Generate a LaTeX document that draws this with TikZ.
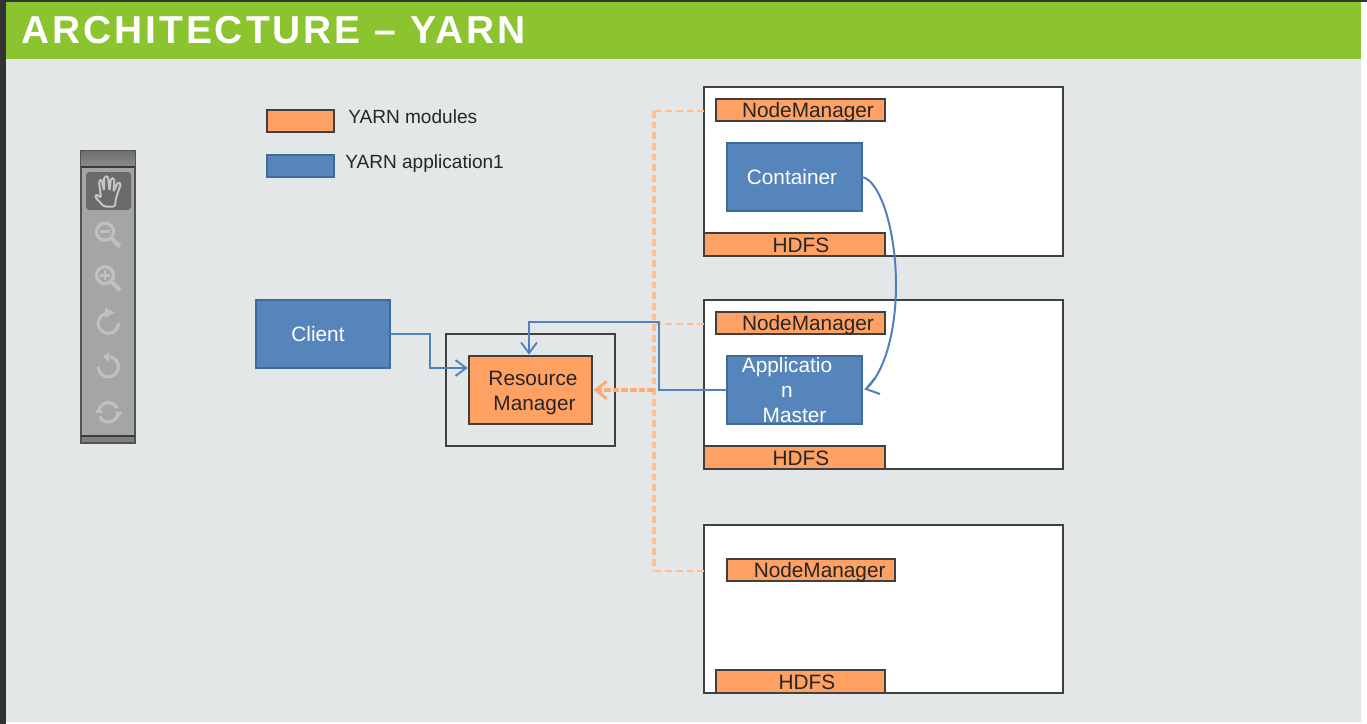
\documentclass[tikz,border=0pt]{standalone}
\usepackage{fontspec}
\setmainfont{Liberation Sans}
\newfontfamily\titlefont[LetterSpace=7.6]{Liberation Sans}
\usetikzlibrary{arrows.meta}
\definecolor{pagebg}{HTML}{E3E7E8}
\definecolor{bargreen}{HTML}{8BC42F}
\definecolor{edgedark}{HTML}{404040}
\definecolor{modorange}{HTML}{FFA163}
\definecolor{appblue}{HTML}{5585BB}
\definecolor{appedge}{HTML}{3F6A99}
\definecolor{dashorange}{HTML}{FDBE94}
\definecolor{arrowblue}{HTML}{4F81BD}
\definecolor{toolgrey}{HTML}{A4A6A5}
\definecolor{toolicon}{HTML}{BEC1C0}
\definecolor{toolbtn}{HTML}{696A69}
\definecolor{handline}{HTML}{C4C6C5}
\definecolor{strip}{HTML}{333333}
\newcommand\offs[1]{\hspace*{#1}}
\newcommand\low[2]{\raisebox{-#1}[\height][\depth]{#2}}
\tikzset{
  x=0.75pt,y=-0.75pt,
  sz/.style 2 args={minimum width=#1*0.75pt,minimum height=#2*0.75pt},
  base/.style={draw=edgedark,line width=1.5pt,inner sep=0pt,outer sep=0pt,align=center,
    font=\fontsize{15.6}{18.75}\selectfont,text=black!85},
  hostbox/.style={base,fill=white},
  plainbox/.style={base},
  modbox/.style={base,fill=modorange},
  appbox/.style={base,fill=appblue,draw=appedge,text=white},
  legendtext/.style={inner sep=0pt,anchor=west,font=\fontsize{14.3}{17}\selectfont,text=black!85},
  flow/.style={draw=arrowblue,line width=1.5pt,shorten >=1pt,-{Straight Barb[length=8pt,width=12pt,line width=1.4pt]}},
  flowplain/.style={draw=arrowblue,line width=1.5pt,line join=miter},
  hb/.style={draw=dashorange,line width=1.8pt,dash pattern=on 5pt off 3pt},
  trunk/.style={draw=dashorange,line width=2.4pt,dash pattern=on 5pt off 3pt},
  hbarrow/.style={draw=modorange!90!white,line width=2.7pt,dash pattern=on 5pt off 1.5pt,shorten >=1.2pt,
    -{Straight Barb[length=8pt,width=13pt,line width=2.2pt]}},
  iconline/.style={draw=toolicon,line width=2.4pt},
  iconhead/.style={fill=toolicon,draw=none},
}
\begin{document}
\begin{tikzpicture}
\useasboundingbox (0,0) rectangle (1367,724);
\fill[white] (0,0) rectangle (1367,724);
\fill[pagebg] (6,2) rectangle (1361,722);
\fill[strip] (0,0) rectangle (6,724);
\fill[strip] (0,0) rectangle (1367,2);
\fill[bargreen] (6,2) rectangle (1361,59);
\node[anchor=west,inner sep=0pt,text=white,font=\titlefont\fontsize{29.2}{32}\selectfont\bfseries] (title) at (21,30.5) {ARCHITECTURE – YARN};

% toolbar
\node[draw=edgedark!90!white,line width=1.1pt,fill=toolgrey,inner sep=0pt,outer sep=0pt,sz={54}{292}] (toolbar) at (108,297) {};
\fill[top color=gray!75!black!90,bottom color=gray!90] (81.7,151.7) rectangle (134.3,167);
\draw[edgedark!90!black,line width=0.8pt] (81,167) -- (135,167);
\fill[gray] (81.7,436) rectangle (134.3,442.3);
\draw[edgedark!90!black,line width=0.8pt] (81,436) -- (135,436);
\fill[toolbtn,rounded corners=2.5pt] (86,172) rectangle (131,210);
\draw[handline,line width=1.5pt,rounded corners=1.2pt,line join=round]
  (104,206.5) -- (95,197) -- (96,194) -- (101,198) -- (99,181) -- (101.5,179) -- (104,191) -- (104,177) -- (108,176)
  -- (109.5,191) -- (111,178) -- (114.5,178.5) -- (113.5,192) -- (118,182) -- (121,183.5) -- (116,198) -- (115,206.5) -- cycle;
% zoom out
\draw[iconline] (105,231.7) circle[radius=6.4pt];
\draw[iconline,line width=3.2pt] (112,239) -- (120,246.5);
\draw[iconline,line width=2pt] (100,231.7) -- (110,231.7);
% zoom in
\draw[iconline] (105,275.2) circle[radius=6.4pt];
\draw[iconline,line width=3.2pt] (112,282.5) -- (120,290);
\draw[iconline,line width=2pt] (100,275.2) -- (110,275.2) (105,270.2) -- (105,280.2);
% rotate cw
\draw[iconline] (108.3,323.3) ++(0:7.6pt) arc[start angle=0,end angle=-262,radius=7.6pt];
\fill[iconhead] (115,312.7) -- (105,307.5) -- (105,318) -- cycle;
% rotate ccw
\draw[iconline] (108.3,366.7) ++(180:7.6pt) arc[start angle=180,end angle=442,radius=7.6pt];
\fill[iconhead] (103,356.7) -- (109,352) -- (109,362) -- cycle;
% sync
\draw[iconline] (108.3,412.3) ++(165:7.3pt) arc[start angle=165,end angle=25,radius=7.3pt];
\draw[iconline] (108.3,412.3) ++(-15:7.3pt) arc[start angle=-15,end angle=-155,radius=7.3pt];
\fill[iconhead] (118.7,417.5) -- (114.5,411.5) -- (122.5,411.5) -- cycle;
\fill[iconhead] (99,406.7) -- (95,412.8) -- (103,412.8) -- cycle;

% legend
\node[modbox,sz={67}{22}] (lgmod) at (300.5,121) {};
\node[appbox,sz={67}{22}] (lgapp) at (300.5,166) {};
\node[legendtext] (lgmodt) at (348,117) {YARN modules};
\node[legendtext] (lgappt) at (345,164) {YARN application1};

% hosts
\node[hostbox,sz={359}{169}] (host1) at (883.5,171.5) {};
\node[hostbox,sz={359}{169}] (host2) at (883.5,384.5) {};
\node[hostbox,sz={359}{168}] (host3) at (883.5,609) {};

\node[modbox,sz={169}{22}] (nm1) at (800.5,110) {\offs{11.25pt}\low{1.5pt}{NodeManager}};
\node[modbox,sz={169}{22}] (nm2) at (800.5,323) {\offs{11.25pt}\low{1.5pt}{NodeManager}};
\node[modbox,sz={168}{22}] (nm3) at (811,570) {\offs{13pt}\low{1.5pt}{NodeManager}};
\node[modbox,sz={181}{23}] (hd1) at (794.5,244.5) {\offs{9.75pt}\low{0.75pt}{HDFS}};
\node[modbox,sz={181}{23}] (hd2) at (794.5,457.5) {\offs{9.75pt}\low{0.75pt}{HDFS}};
\node[modbox,sz={169}{23}] (hd3) at (800.5,681.5) {\offs{9.75pt}\low{0.75pt}{HDFS}};

\node[appbox,sz={135}{68}] (cont) at (794.5,177) {\offs{-3.75pt}Container};
\node[appbox,sz={135}{68}] (am) at (794.5,390) {\offs{-11.25pt}Applicatio\\\offs{-11.25pt}n\\\offs{0pt}Master};
\node[appbox,sz={134}{68}] (client) at (323,334) {\offs{-7.5pt}Client};
\node[plainbox,sz={169}{112}] (rmouter) at (530.5,390) {};
\node[modbox,sz={123}{68}] (rm) at (530.5,390) {\offs{3.75pt}\low{2.2pt}{Resource}\\\offs{6pt}\low{2.2pt}{Manager}};

% heartbeat connectors
\coordinate (tkTop) at (654,111);
\coordinate (tkBot) at (654,571);
\coordinate (tkHost2) at (654,324);
\coordinate (tkMid) at (654,390);
\draw[trunk] (tkTop) -- (tkBot);
\draw[hb] (host1.west |- tkTop) -- (tkTop);
\draw[hb] (host2.west |- tkHost2) -- (tkHost2);
\draw[hb] (host3.west |- tkBot) -- (tkBot);
\draw[hbarrow] (tkMid) -- (rm.east);

% application connectors
\coordinate (c1) at (430,334);
\coordinate (c2) at (430,368);
\coordinate (a1) at (659,390);
\coordinate (a2) at (659,322);
\coordinate (a3) at (529,322);
\coordinate (curveEnd) at (866,389);
\coordinate (barbA) at (880,394);
\coordinate (barbB) at (875,378);
\draw[flow] (client.east) -- (c1) -- (c2) -- (rm.west |- c2);
\draw[flow] (am.west) -- (a1) -- (a2) -- (a3) -- (a3 |- rm.north);
\draw[flowplain] (cont.east) .. controls (880,180) and (896,230) .. (896,285) .. controls (896,330) and (885,372) .. (curveEnd);
\draw[flowplain] (barbB) -- (curveEnd) -- (barbA);
\end{tikzpicture}
\end{document}
